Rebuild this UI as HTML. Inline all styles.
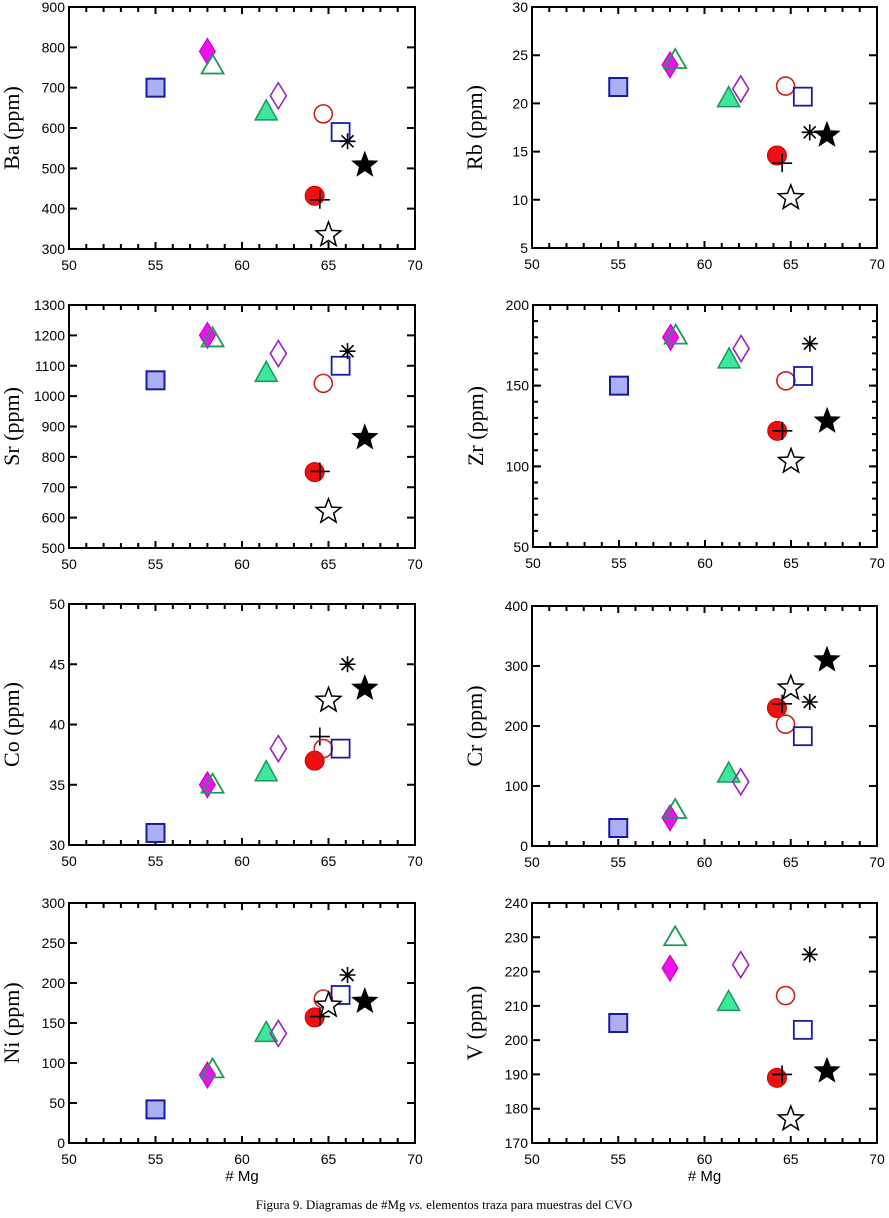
<!DOCTYPE html>
<html><head><meta charset="utf-8"><style>
body{margin:0;background:#fff;width:889px;height:1218px;overflow:hidden}
svg{display:block}
</style></head><body>
<svg id="fig" width="889" height="1218">
<text x="444" y="1209" text-anchor="middle" font-family="Liberation Serif, serif" font-size="13">Figura 9. Diagramas de #Mg <tspan font-style="italic">vs.</tspan> elementos traza para muestras del CVO</text>
</svg>
<script>
// Sample order: blueSq, magDiam, greenOpenTri, greenTri, purpleOpenDiam, redCircle, plus, redOpenCircle, blueOpenSq, openStar, asterisk, blackStar
const mgValues = [55, 58, 58.3, 61.4, 62.1, 64.2, 64.5, 64.7, 65.7, 65, 66.1, 67.1];
const baValues = [700, 790, 755, 640, 680, 432, 422, 635, 590, 335, 567, 508];
const rbValues = [21.7, 24, 24.5, 20.5, 21.5, 14.6, 13.8, 21.8, 20.7, 10.2, 17, 16.7];
const srValues = [1052, 1200, 1190, 1075, 1140, 750, 752, 1042, 1100, 620, 1148, 863];
const zrValues = [150, 180, 181, 166, 173, 122, 122, 153, 156, 103, 176, 128];
const coValues = [31, 35, 35, 36, 38, 37, 39, 38, 38, 42, 45, 43];
const crValues = [30, 47, 60, 120, 107, 230, 237, 203, 183, 263, 240, 310];
const niValues = [42, 85, 92, 137, 137, 157, 158, 180, 185, 172, 210, 177];
const vValues = [205, 221, 230, 211, 222, 189, 190, 213, 203, 177, 225, 191];
const xTicks = [50, 55, 60, 65, 70];

const NS = 'http://www.w3.org/2000/svg';
const svg = document.getElementById('fig');
function mk(tag, attrs, parent) {
  const e = document.createElementNS(NS, tag);
  for (const k in attrs) e.setAttribute(k, attrs[k]);
  (parent || svg).appendChild(e);
  return e;
}
const panels = [
  {name:'ba', title:'Ba (ppm)', vals:baValues, x0:69, x1:415, y0:7, y1:249, min:300, max:900, step:100, minor:0},
  {name:'rb', title:'Rb (ppm)', vals:rbValues, x0:532, x1:877, y0:7, y1:248, min:5, max:30, step:5, minor:0},
  {name:'sr', title:'Sr (ppm)', vals:srValues, x0:69, x1:415, y0:305, y1:548, min:500, max:1300, step:100, minor:0},
  {name:'zr', title:'Zr (ppm)', vals:zrValues, x0:533, x1:877, y0:305, y1:547, min:50, max:200, step:50, minor:10},
  {name:'co', title:'Co (ppm)', vals:coValues, x0:69, x1:415, y0:604, y1:845, min:30, max:50, step:5, minor:0},
  {name:'cr', title:'Cr (ppm)', vals:crValues, x0:532, x1:877, y0:606, y1:846, min:0, max:400, step:100, minor:0},
  {name:'ni', title:'Ni (ppm)', vals:niValues, x0:69, x1:415, y0:903, y1:1143, min:0, max:300, step:50, minor:0, xl:true},
  {name:'v', title:'V (ppm)', vals:vValues, x0:532, x1:877, y0:903, y1:1143, min:170, max:240, step:10, minor:0, xl:true},
];
function starPts(cx, cy, R, r) {
  let p = [];
  for (let i = 0; i < 10; i++) {
    const a = -Math.PI/2 + i*Math.PI/5, rr = i%2 ? r : R;
    p.push((cx + rr*Math.cos(a)).toFixed(1) + ',' + (cy + rr*Math.sin(a)).toFixed(1));
  }
  return p.join(' ');
}
function marker(i, cx, cy, g) {
  let e;
  switch (i) {
    case 0: e = mk('rect', {x:cx-9, y:cy-9, width:18, height:18, fill:'#aab0f2', stroke:'#1a1aa0', 'stroke-width':2}, g); break;
    case 1: e = mk('polygon', {points:`${cx},${cy-13} ${cx+8},${cy} ${cx},${cy+13} ${cx-8},${cy}`, fill:'#ee10ee', stroke:'#c000c0', 'stroke-width':1}, g); break;
    case 2: e = mk('polygon', {points:`${cx},${cy-11} ${cx+11},${cy+8} ${cx-11},${cy+8}`, fill:'none', stroke:'#1a9a5a', 'stroke-width':1.8}, g); break;
    case 3: e = mk('polygon', {points:`${cx},${cy-12} ${cx+11},${cy+8} ${cx-11},${cy+8}`, fill:'#3ee89a', stroke:'#1a9a5a', 'stroke-width':1.5}, g); break;
    case 4: e = mk('polygon', {points:`${cx},${cy-13} ${cx+8},${cy} ${cx},${cy+13} ${cx-8},${cy}`, fill:'none', stroke:'#a020c0', 'stroke-width':1.6}, g); break;
    case 5: e = mk('circle', {cx, cy, r:9.5, fill:'#ee1010', stroke:'#d00000', 'stroke-width':1}, g); break;
    case 6: e = mk('path', {d:`M${cx-10},${cy}H${cx+10}M${cx},${cy-9}V${cy+9}`, stroke:'#000', 'stroke-width':1.6, fill:'none'}, g); break;
    case 7: e = mk('circle', {cx, cy, r:9, fill:'none', stroke:'#cc2020', 'stroke-width':1.6}, g); break;
    case 8: e = mk('rect', {x:cx-9, y:cy-9, width:18, height:18, fill:'none', stroke:'#1a1aa8', 'stroke-width':1.8}, g); break;
    case 9: e = mk('polygon', {points:starPts(cx, cy, 13, 5.5), fill:'#fff', stroke:'#000', 'stroke-width':1.5}, g); break;
    case 10: e = mk('path', {d:`M${cx-8},${cy}H${cx+8}M${cx},${cy-8}V${cy+8}M${cx-6},${cy-6}L${cx+6},${cy+6}M${cx-6},${cy+6}L${cx+6},${cy-6}`, stroke:'#000', 'stroke-width':1.6, fill:'none'}, g); break;
    case 11: e = mk('polygon', {points:starPts(cx, cy, 13, 5.5), fill:'#000', stroke:'#000', 'stroke-width':1}, g); break;
  }
  
  
}
panels.forEach(p => {
  const g = mk('g', {});
  
  
  const sx = v => p.x0 + (v - 50) / 20 * (p.x1 - p.x0);
  const sy = v => p.y1 - (v - p.min) / (p.max - p.min) * (p.y1 - p.y0);
  for (let v = 50; v <= 70; v++) {
    const L = v % 5 === 0 ? 7 : 5, x = sx(v);
    mk('path', {d:`M${x},${p.y1}v${-L}M${x},${p.y0}v${L}`, stroke:'#000', 'stroke-width':2}, g);
  }
  xTicks.forEach(v => {
    const t = mk('text', {x:sx(v), y:p.y1 + 21, 'text-anchor':'middle', 'font-family':'Liberation Sans, sans-serif', 'font-size':14}, g);
    t.textContent = v;
    
    
  });
  if (p.minor) for (let v = p.min; v <= p.max; v += p.minor) {
    const y = sy(v);
    mk('path', {d:`M${p.x0},${y}h5M${p.x1},${y}h-5`, stroke:'#000', 'stroke-width':2}, g);
  }
  for (let v = p.min; v <= p.max + 1e-9; v += p.step) {
    const y = sy(v);
    mk('path', {d:`M${p.x0},${y}h8M${p.x1},${y}h-8`, stroke:'#000', 'stroke-width':2}, g);
    const t = mk('text', {x:p.x0 - 4, y:y + 5, 'text-anchor':'end', 'font-family':'Liberation Sans, sans-serif', 'font-size':14}, g);
    t.textContent = Math.round(v);
    
    
  }
  mk('rect', {x:p.x0, y:p.y0, width:p.x1 - p.x0, height:p.y1 - p.y0, fill:'none', stroke:'#000', 'stroke-width':2}, g);
  const cy = (p.y0 + p.y1) / 2, tx = p.x0 - 50;
  const yt = mk('text', {x:tx, y:cy, transform:`rotate(-90 ${tx} ${cy})`, 'text-anchor':'middle', 'font-family':'Liberation Serif, serif', 'font-size':22}, g);
  yt.textContent = p.title;
  
  
  if (p.xl) {
    const xt = mk('text', {x:(p.x0 + p.x1) / 2, y:p.y1 + 38, 'text-anchor':'middle', 'font-family':'Liberation Sans, sans-serif', 'font-size':15}, g);
    xt.textContent = '# Mg';
    
    
  }
  p.vals.forEach((v, i) => marker(i, sx(mgValues[i]), sy(v), g));
});
</script>
</body></html>
